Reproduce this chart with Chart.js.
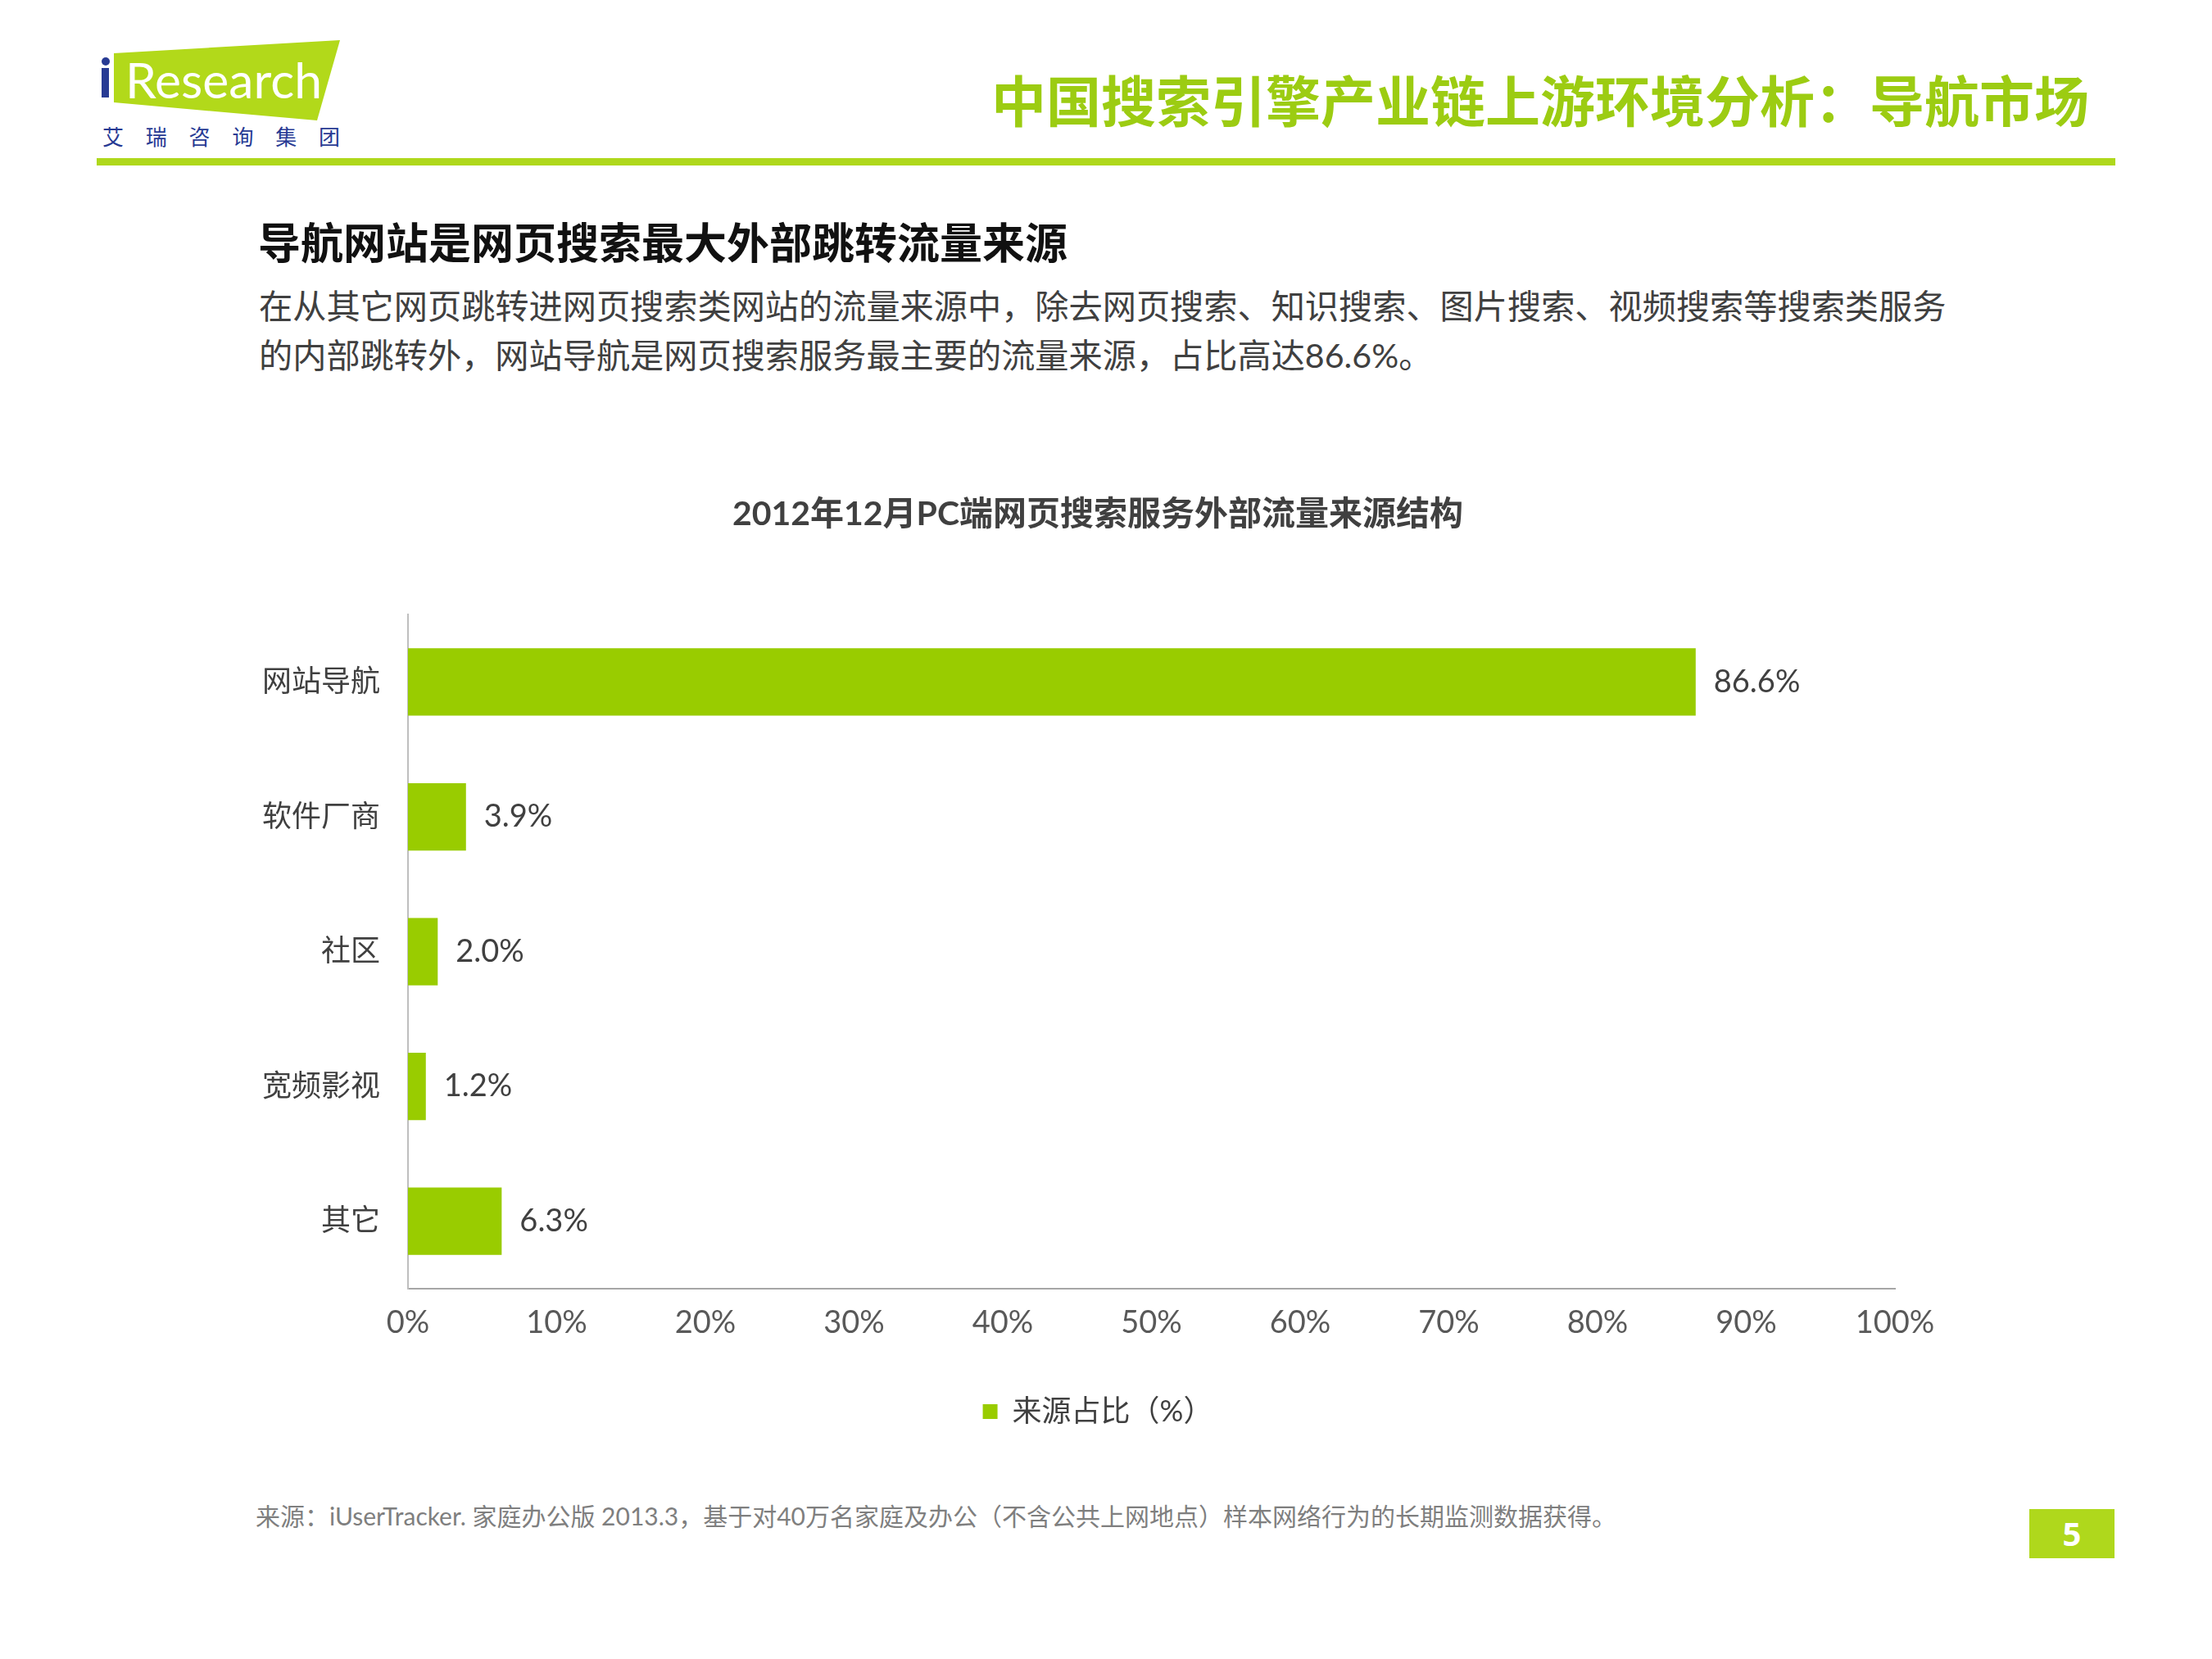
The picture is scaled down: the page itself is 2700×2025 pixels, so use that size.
<!DOCTYPE html>
<html>
<head>
<meta charset="utf-8">
<script src="https://cdn.jsdelivr.net/npm/chart.js@4.4.1/dist/chart.umd.min.js"></script>
<style>
  html,body{margin:0;padding:0;background:#fff;}
  body{width:2700px;height:2025px;position:relative;overflow:hidden;font-family:Lato,"Noto Sans CJK SC",sans-serif;}
  .abs{position:absolute;white-space:nowrap;}
  #topTitle{right:150px;top:80px;font-size:67px;line-height:80px;font-weight:bold;color:#9ccc12;font-family:"Noto Sans CJK SC",sans-serif;}
  #rule{left:118px;top:193px;width:2464px;height:9px;background:#afd81c;}
  #headline{left:315px;top:262px;font-size:52px;line-height:64px;font-weight:bold;color:#111;font-family:"Noto Sans CJK SC",sans-serif;}
  #body{left:316px;top:343px;font-size:41.2px;line-height:60px;color:#404040;}
  #footer{left:312px;top:1831px;font-size:30px;line-height:38px;color:#7f7f7f;}
  #pageNo{left:2477px;top:1842px;width:104px;height:60px;background:#afd81c;color:#fff;font-weight:bold;font-size:40px;line-height:60px;text-align:center;font-family:"Open Sans",sans-serif;}
  #chartBox{left:250px;top:580px;width:2180px;height:1200px;}
</style>
</head>
<body>
<svg class="abs" style="left:0;top:0" width="460" height="200">
  <polygon points="139,65 415,49 387,147 139,125" fill="#b2d91a"/>
  <circle cx="129" cy="75" r="5" fill="#283b94"/>
  <rect x="124" y="83" width="9" height="36" fill="#283b94"/>
  <text x="153" y="120" font-family="Lato, sans-serif" font-size="60" fill="#ffffff" textLength="240" lengthAdjust="spacingAndGlyphs">Research</text>
  <text x="125" y="177" font-family="Noto Sans CJK SC, sans-serif" font-size="26" fill="#283b94" textLength="290" lengthAdjust="spacing">艾瑞咨询集团</text>
</svg>
<div id="topTitle" class="abs">中国搜索引擎产业链上游环境分析：导航市场</div>
<div id="rule" class="abs"></div>
<div id="headline" class="abs">导航网站是网页搜索最大外部跳转流量来源</div>
<div id="body" class="abs">在从其它网页跳转进网页搜索类网站的流量来源中，除去网页搜索、知识搜索、图片搜索、视频搜索等搜索类服务<br>的内部跳转外，网站导航是网页搜索服务最主要的流量来源，占比高达86.6%。</div>
<div id="chartBox" class="abs"><canvas id="c" width="2180" height="1200"></canvas></div>
<div id="footer" class="abs">来源：iUserTracker. 家庭办公版 2013.3，基于对40万名家庭及办公（不含公共上网地点）样本网络行为的长期监测数据获得。</div>
<div id="pageNo" class="abs">5</div>
<script>
const chartTitle = "2012年12月PC端网页搜索服务外部流量来源结构";
const categories = ["网站导航", "软件厂商", "社区", "宽频影视", "其它"];
const seriesName = "来源占比（%）";
const shareValues = [86.6, 3.9, 2.0, 1.2, 6.3];
const xTickValues = [0, 10, 20, 30, 40, 50, 60, 70, 80, 90, 100];

const FONT = "Lato, 'Noto Sans CJK SC', sans-serif";
const GREEN = "#99cc00";
const TEXT = "#404040";

const valueLabels = {
  id: "valueLabels",
  afterDatasetsDraw(chart) {
    const ctx = chart.ctx;
    const meta = chart.getDatasetMeta(0);
    ctx.save();
    ctx.font = "38px " + FONT;
    ctx.fillStyle = TEXT;
    ctx.textAlign = "left";
    ctx.textBaseline = "middle";
    meta.data.forEach((bar, i) => {
      ctx.fillText(shareValues[i].toFixed(1) + "%", bar.x + 22, bar.y);
    });
    ctx.restore();
  }
};

new Chart(document.getElementById("c"), {
  type: "bar",
  data: {
    labels: categories,
    datasets: [{
      label: seriesName,
      data: shareValues,
      backgroundColor: GREEN,
      borderWidth: 0,
      categoryPercentage: 1.0,
      barPercentage: 0.5
    }]
  },
  plugins: [valueLabels],
  options: {
    indexAxis: "y",
    responsive: false,
    animation: false,
    devicePixelRatio: 1,
    layout: { padding: { left: 0, right: 0, top: 0, bottom: 29 } },
    plugins: {
      title: {
        display: true,
        text: chartTitle,
        color: TEXT,
        font: { family: FONT, size: 41, weight: "bold" },
        padding: { top: 23, bottom: 98 }
      },
      legend: {
        position: "bottom",
        labels: {
          boxWidth: 18, boxHeight: 18,
          color: TEXT,
          padding: 10,
          font: { family: FONT, size: 36 }
        }
      },
      tooltip: { enabled: false }
    },
    scales: {
      x: {
        min: 0, max: 100,
        afterBuildTicks(scale) { scale.ticks = xTickValues.map(v => ({ value: v })); },
        afterFit(scale) { scale.height = 122; },
        grid: { display: false, drawTicks: false },
        border: { display: true, color: "#a6a6a6", width: 2 },
        ticks: {
          padding: 19,
          color: "#595959",
          font: { family: FONT, size: 38 },
          callback: v => v + "%"
        }
      },
      y: {
        afterFit(scale) { scale.width = 248; },
        grid: { display: false, drawTicks: false },
        border: { display: true, color: "#bfbfbf", width: 2 },
        ticks: {
          padding: 34,
          color: TEXT,
          font: { family: FONT, size: 36 }
        }
      },
      yRightSpacer: {
        type: "category",
        position: "right",
        display: true,
        afterFit(scale) { scale.width = 117; },
        grid: { display: false, drawTicks: false },
        border: { display: false },
        ticks: { display: false }
      }
    }
  }
});
</script>
</body>
</html>
